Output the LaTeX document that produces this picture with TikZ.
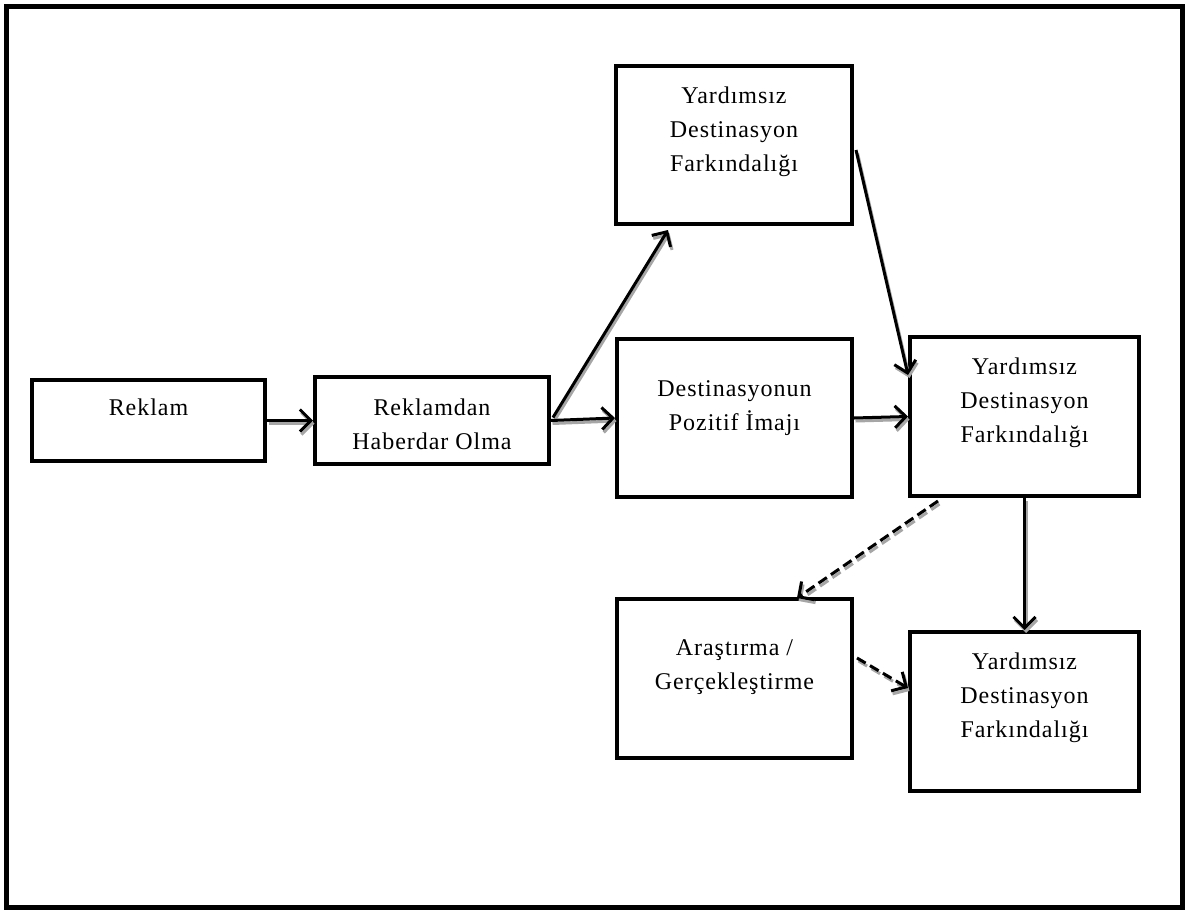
\documentclass[tikz,border=0pt]{standalone}
\usepackage{fontspec}
\setmainfont{Liberation Serif}[LetterSpace=4]
\usetikzlibrary{arrows.meta,calc}
\begin{document}
\begin{tikzpicture}[x=1pt,y=-1pt,
  box/.style={draw=black,line width=4pt,fill=white,rectangle,inner sep=0pt},
  txt/.style={align=center,font=\fontsize{24pt}{34pt}\selectfont,inner sep=0pt,anchor=base},
  conn/.style={line width=3pt,-{Straight Barb[length=11pt,width=22pt,line width=3pt]}},
  shadowc/.style={conn,draw=black!35,transform canvas={shift={(1.5pt,-3pt)}}},
  dashc/.style={dash pattern=on 10pt off 5pt}
]
\useasboundingbox (0,0) rectangle (1187,911);
\draw[line width=5pt] (6,6) rectangle (1182,907);

\node[box,minimum width=233pt,minimum height=81pt] (reklam) at (148.5,420.5) {};
\node[box,minimum width=234pt,minimum height=87pt] (haber) at (432,420.5) {};
\node[box,minimum width=236pt,minimum height=158pt] (top) at (734,145) {};
\node[box,minimum width=235pt,minimum height=158pt] (img) at (734.5,418) {};
\node[box,minimum width=229pt,minimum height=159pt] (mid) at (1024.5,416.5) {};
\node[box,minimum width=235pt,minimum height=159pt] (ara) at (734.5,678.5) {};
\node[box,minimum width=229pt,minimum height=159pt] (br) at (1024.5,711.5) {};

\node[txt] (treklam) at (148.5,415) {Reklam};
\node[txt] (thaber) at (432,449) {Reklamdan\\Haberdar Olma};
\node[txt] (ttop) at (734,171) {Yardımsız\\Destinasyon\\Farkındalığı};
\node[txt] (timg) at (734.5,430) {Destinasyonun\\Pozitif İmajı};
\node[txt] (tmid) at (1024.5,442) {Yardımsız\\Destinasyon\\Farkındalığı};
\node[txt] (tara) at (734.5,689) {Araştırma /\\Gerçekleştirme};
\node[txt] (tbr) at (1024.5,737) {Yardımsız\\Destinasyon\\Farkındalığı};

\coordinate (a3s) at ($(haber.east)+(2,-3)$);
\coordinate (a3e) at ($(top.south west)+(54,4)$);
\coordinate (a4s) at ($(top.east)+(2,5)$);
\coordinate (a4e) at ($(mid.north west)+(0,40)$);
\coordinate (a7s) at ($(mid.south west)+(30,3)$);
\coordinate (a7e) at ($(ara.north east)+(-57,1)$);
\coordinate (a8s) at ($(ara.north east)+(3,61)$);
\coordinate (a8e) at ($(br.north west)+(0,58)$);

\foreach \s in {shadowc,conn}{
  \draw[\s] (reklam.east) -- (haber.west);
  \draw[\s] (haber.east) -- (img.west);
  \draw[\s] (a3s) -- (a3e);
  \draw[\s] (a4s) -- (a4e);
  \draw[\s] (img.east) -- (mid.west);
  \draw[\s] (mid.south) -- (br.north);
  \draw[\s,dashc] (a7s) -- (a7e);
  \draw[\s,dashc] (a8s) -- (a8e);
}
\end{tikzpicture}
\end{document}
